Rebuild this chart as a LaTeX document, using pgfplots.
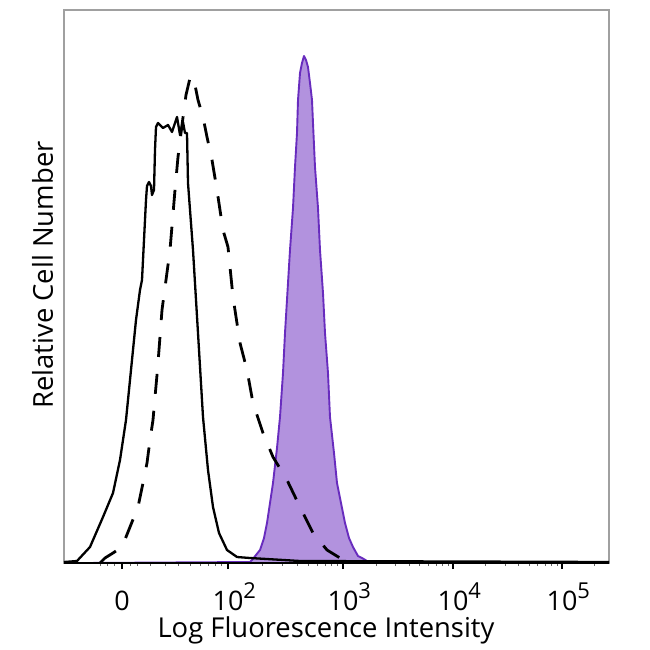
\documentclass[border=0pt]{standalone}
\usepackage{fontspec}
\setmainfont{Open Sans}
\usepackage{pgfplots}
\pgfplotsset{compat=1.18}
\definecolor{pfill}{RGB}{178,146,222}
\definecolor{pedge}{RGB}{104,44,190}
\definecolor{framec}{RGB}{160,160,160}
\newcommand{\sups}[1]{\raisebox{0.42em}{\fontsize{22}{22}\selectfont #1}}
\newcommand{\dec}[1]{\hphantom{\sups{#1}}10\sups{#1}}
\begin{document}
\begin{tikzpicture}
\useasboundingbox (-64bp,-87bp) rectangle (586bp,563bp);
\begin{axis}[
  scale only axis, width=545bp, height=553bp,
  xmin=64, xmax=609, ymin=0, ymax=553,
  axis line style={framec, line width=1.8bp},
  clip=false,
  xtick={122,228,343,453,562},
  xticklabels={0,\dec{2},\dec{3},\dec{4},\dec{5}},
  minor xtick={100,107,114,130,137,150,165,178,190,200,208,215,221,262.6,282.9,297.2,308.4,317.5,325.2,331.9,337.7,376.1,395.5,409.2,419.9,428.6,436.0,442.3,448.0,485.8,505.0,518.6,529.2,537.8,545.1,551.4,557.0,594.8},
  ytick=\empty,
  minor ytick={26.5,53,...,530},
  xtick pos=lower, ytick pos=left,
  major tick length=6bp, minor tick length=3bp,
  major x tick style={black, line width=1.3bp, yshift=-6bp},
  minor x tick style={black!60, line width=0.9bp, yshift=-3bp},
  minor y tick style={framec, line width=0.9bp},
  xticklabel style={font=\fontsize{27}{30}\selectfont, anchor=base, yshift=-47bp},
  xlabel={Log Fluorescence Intensity},
  ylabel={Relative Cell Number},
  xlabel style={at={(axis description cs:0.4807,-0.1356)}, anchor=base, font=\fontsize{27.5}{30}\selectfont},
  ylabel style={at={(axis description cs:-0.0202,0.5208)}, anchor=base, font=\fontsize{27.5}{30}\selectfont},
]
% purple filled histogram
\addplot[draw=pedge, fill=pfill, line width=1.9bp, line join=round] coordinates {
(85,0)(250,1)(252,3)(256,8)(260,13)(264,25)(267,40)(270,60)(273,80)(277,115)(280,146)(283,190)(285,230)(288,280)(290,313)(293,355)(295,396)(297,430)(298,463)(300,490)(302,500)(304,507)(306,503)(308,496)(310,480)(312,463)(313,440)(315,396)(318,355)(320,313)(323,270)(325,230)(328,190)(330,146)(334,110)(337,80)(341,60)(345,40)(349,25)(353,16)(358,7)(362,5)(367,2)(372,0)
} \closedcycle;
% solid black histogram
\addplot[black, line width=2.3bp, line join=round] coordinates {
(64,1)(77,2)(90,16)(103,46)(113,70)(120,103)(126,143)(131,193)(136,243)(140,273)(142,283)(144,323)(146,363)(147,377)(149,381)(151,377)(152,368)(154,373)(155,413)(156,436)(158,440)(163,435)(168,438)(172,431)(177,446)(180,428)(183,441)(185,430)(187,430)(188,380)(193,313)(198,230)(203,146)(208,93)(213,56)(219,30)(227,13)(237,6)(250,5)(300,2)(609,1)
};
% dashed black histogram
\addplot[black, line width=2.8bp, dash pattern=on 20bp off 17bp, line join=round] coordinates {
(100,0)(105,5)(113,10)(122,16)(130,36)(138,56)(143,80)(147,100)(150,123)(153,143)(155,166)(157,188)(159,213)(162,253)(166,283)(170,313)(175,373)(178,406)(182,438)(186,468)(190,485)(192,487)(195,478)(198,463)(203,446)(207,426)(212,403)(217,373)(223,333)(228,316)(233,266)(240,220)(247,193)(253,160)(263,130)(273,106)(287,83)(300,56)(313,30)(327,13)(340,5)(347,2)(355,1)
};
\draw[black, line width=2bp] (rel axis cs:0,0) -- (rel axis cs:1,0);
\end{axis}
\end{tikzpicture}
\end{document}
